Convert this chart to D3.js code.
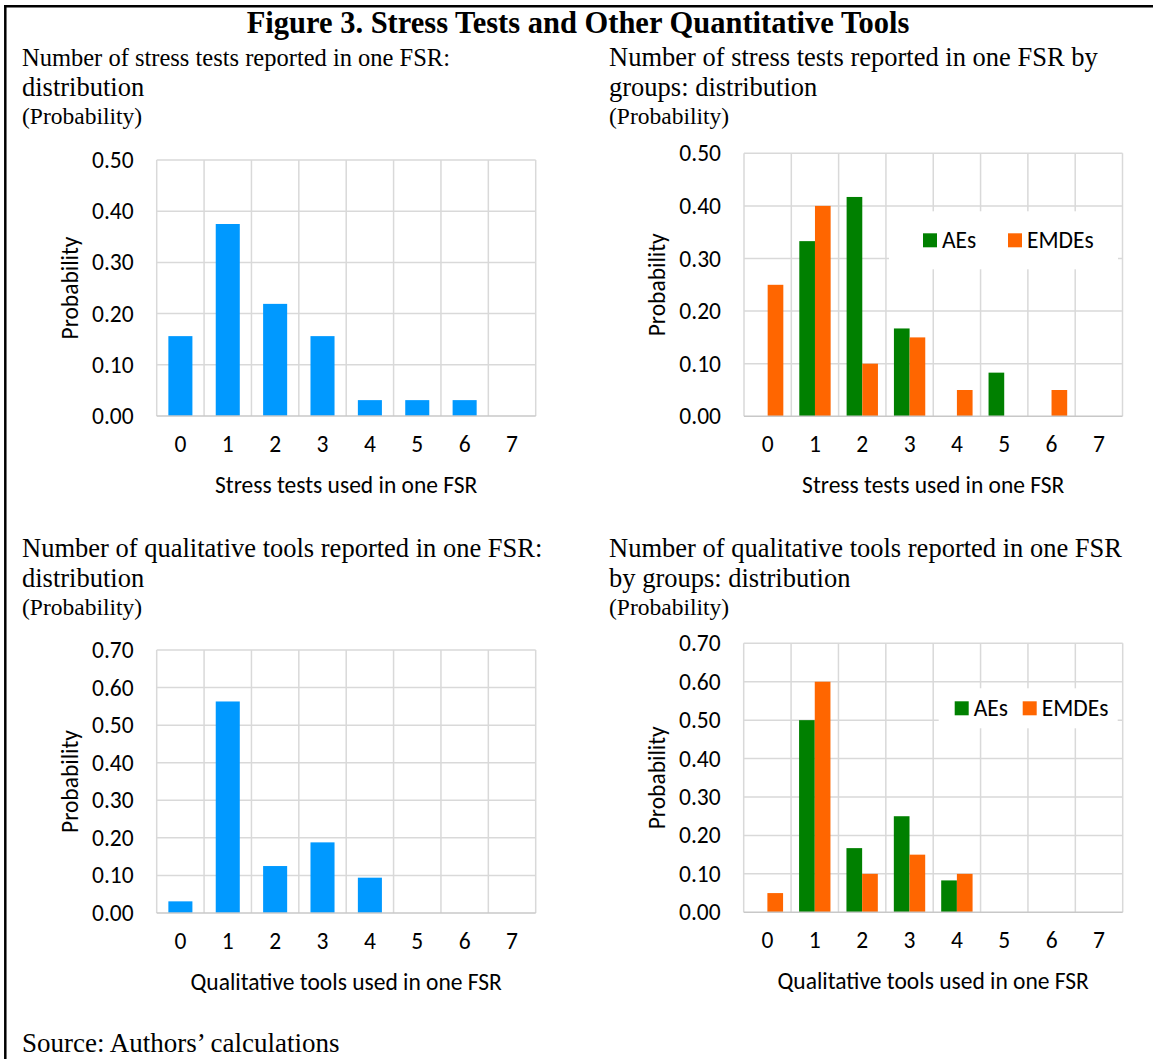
<!DOCTYPE html>
<html>
<head>
<meta charset="utf-8">
<script src="https://cdn.jsdelivr.net/npm/d3@7"></script>
<style>
  body { margin: 0; background: #fff; }
  .serif { font-family: "Liberation Serif", "Times New Roman", serif; }
  .sans { font-family: Carlito, Calibri, "Open Sans", sans-serif; }
</style>
</head>
<body>
<div id="chart"></div>
<script>
// categories: number of tools in one FSR
const categories = ['0', '1', '2', '3', '4', '5', '6', '7'];

// stress tests
const stressAll = [0.156, 0.375, 0.219, 0.156, 0.031, 0.031, 0.031, 0];
const stressAEs = [0, 0.333, 0.417, 0.167, 0, 0.083, 0, 0];
const stressEMDEs = [0.25, 0.40, 0.10, 0.15, 0.05, 0, 0.05, 0];

// qualitative tools
const qualAll = [0.031, 0.563, 0.125, 0.188, 0.094, 0, 0, 0];
const qualAEs = [0, 0.5, 0.167, 0.25, 0.083, 0, 0, 0];
const qualEMDEs = [0.05, 0.6, 0.1, 0.15, 0.1, 0, 0, 0];

const stressTicks = [0, 0.1, 0.2, 0.3, 0.4, 0.5];
const qualTicks = [0, 0.1, 0.2, 0.3, 0.4, 0.5, 0.6, 0.7];

const W = 1156, H = 1059;
const blue = '#0099ff', green = '#008000', orange = '#ff6600';
const sansSize = '23.5px';

const svg = d3.select('#chart')
  .append('svg')
  .attr('width', W)
  .attr('height', H);

svg.append('rect').attr('width', W).attr('height', H).attr('fill', '#fff');

// frame (top + left only visible)
svg.append('line')
  .attr('x1', 4).attr('y1', 6.2).attr('x2', 1153).attr('y2', 6.2)
  .attr('stroke', '#000').attr('stroke-width', 2.5);
svg.append('line')
  .attr('x1', 5.3).attr('y1', 5).attr('x2', 5.3).attr('y2', H)
  .attr('stroke', '#000').attr('stroke-width', 2.5);

svg.append('text')
  .attr('class', 'serif')
  .attr('x', 578).attr('y', 33)
  .attr('text-anchor', 'middle')
  .attr('font-weight', 'bold')
  .attr('font-size', '30.5px')
  .text('Figure 3. Stress Tests and Other Quantitative Tools');

function heading(x, y, lines, firstSize) {
  lines.forEach((l, i) => {
    svg.append('text')
      .attr('class', 'serif')
      .attr('x', x).attr('y', y + i * 30)
      .attr('font-size', i === 0 && firstSize ? firstSize : '26.5px')
      .text(l);
  });
  svg.append('text')
    .attr('class', 'serif')
    .attr('x', x).attr('y', y + lines.length * 30 - 2)
    .attr('font-size', '23.5px')
    .text('(Probability)');
}

heading(22, 66, ['Number of stress tests reported in one FSR:', 'distribution'], '24.5px');
heading(609, 66, ['Number of stress tests reported in one FSR by', 'groups: distribution']);
heading(22, 557, ['Number of qualitative tools reported in one FSR:', 'distribution']);
heading(609, 557, ['Number of qualitative tools reported in one FSR', 'by groups: distribution']);

svg.append('text')
  .attr('class', 'serif')
  .attr('x', 22).attr('y', 1052)
  .attr('font-size', '27px')
  .text('Source: Authors\u2019 calculations');

function panel(o) {
  const g = svg.append('g').attr('transform', `translate(${o.left},${o.top})`);
  const w = o.width, h = o.height;

  const x = d3.scaleBand().domain(categories).range([0, w]);
  const y = d3.scaleLinear().domain([0, d3.max(o.ticks)]).range([h, 0]);

  // horizontal grid
  g.append('g')
    .selectAll('line')
    .data(o.ticks.slice(1))
    .enter()
    .append('line')
    .attr('x1', 0).attr('x2', w)
    .attr('y1', d => y(d)).attr('y2', d => y(d))
    .attr('stroke', '#d9d9d9').attr('stroke-width', 1.5);

  // vertical grid at category borders
  const borders = categories.map(c => x(c)).concat([w]);
  g.append('g')
    .selectAll('line')
    .data(borders)
    .enter()
    .append('line')
    .attr('x1', d => d).attr('x2', d => d)
    .attr('y1', 0).attr('y2', h)
    .attr('stroke', '#d9d9d9').attr('stroke-width', 1.5);

  // bars
  const names = o.series.map(s => s.name);
  const inner = d3.scaleBand().domain(names).range([0, x.bandwidth()])
    .paddingInner(0)
    .paddingOuter(o.series.length > 1 ? 0.51 : 0.485);

  o.series.forEach(s => {
    g.append('g')
      .selectAll('rect')
      .data(s.values.map((v, i) => ({ cat: categories[i], v: v })))
      .enter()
      .append('rect')
      .attr('x', d => x(d.cat) + inner(s.name))
      .attr('y', d => y(d.v))
      .attr('width', inner.bandwidth())
      .attr('height', d => h - y(d.v))
      .attr('fill', s.color);
  });

  // bottom axis line
  g.append('line')
    .attr('x1', 0).attr('x2', w)
    .attr('y1', h).attr('y2', h)
    .attr('stroke', '#c8c8c8').attr('stroke-width', 1.5);

  // y axis labels
  const yAxis = g.append('g')
    .call(d3.axisLeft(y).tickValues(o.ticks).tickFormat(d3.format('.2f')).tickSize(0).tickPadding(23));
  yAxis.select('.domain').remove();
  yAxis.selectAll('text')
    .attr('class', 'sans')
    .attr('font-size', sansSize)
    .attr('fill', '#000');

  // x axis labels
  const xAxis = g.append('g')
    .attr('transform', `translate(0,${h})`)
    .call(d3.axisBottom(x).tickSize(0).tickPadding(19));
  xAxis.select('.domain').remove();
  xAxis.selectAll('text')
    .attr('class', 'sans')
    .attr('font-size', sansSize)
    .attr('fill', '#000');

  g.append('text')
    .attr('class', 'sans')
    .attr('x', w / 2).attr('y', h + 77)
    .attr('text-anchor', 'middle')
    .attr('font-size', sansSize)
    .text(o.xTitle);

  g.append('text')
    .attr('class', 'sans')
    .attr('transform', `translate(${-79},${h / 2}) rotate(-90)`)
    .attr('text-anchor', 'middle')
    .attr('font-size', sansSize)
    .text('Probability');

  // legend
  if (o.legend) {
    const L = o.legend;
    const lg = g.append('g').attr('transform', `translate(${L.x},${L.y})`);
    lg.append('rect')
      .attr('x', 0).attr('y', 0)
      .attr('width', L.w).attr('height', L.h)
      .attr('fill', '#fff');
    o.series.forEach((s, i) => {
      const ix = L.items[i];
      lg.append('rect')
        .attr('x', ix).attr('y', L.h / 2 - 7)
        .attr('width', 14).attr('height', 14)
        .attr('fill', s.color);
      lg.append('text')
        .attr('class', 'sans')
        .attr('x', ix + 19).attr('y', L.h / 2 + 8)
        .attr('font-size', sansSize)
        .text(s.name);
    });
  }
}

panel({
  left: 156.7, top: 160, width: 379, height: 256,
  ticks: stressTicks,
  series: [{ name: 'All', values: stressAll, color: blue }],
  xTitle: 'Stress tests used in one FSR'
});

panel({
  left: 744, top: 153.3, width: 378.5, height: 263,
  ticks: stressTicks,
  series: [
    { name: 'AEs', values: stressAEs, color: green },
    { name: 'EMDEs', values: stressEMDEs, color: orange }
  ],
  xTitle: 'Stress tests used in one FSR',
  legend: { x: 145, y: 58, w: 229, h: 58, items: [34, 119] }
});

panel({
  left: 156.7, top: 650, width: 379, height: 263,
  ticks: qualTicks,
  series: [{ name: 'All', values: qualAll, color: blue }],
  xTitle: 'Qualitative tools used in one FSR'
});

panel({
  left: 743.7, top: 643.3, width: 379, height: 269,
  ticks: qualTicks,
  series: [
    { name: 'AEs', values: qualAEs, color: green },
    { name: 'EMDEs', values: qualEMDEs, color: orange }
  ],
  xTitle: 'Qualitative tools used in one FSR',
  legend: { x: 195, y: 45, w: 179, h: 40, items: [16, 84] }
});
</script>
</body>
</html>
